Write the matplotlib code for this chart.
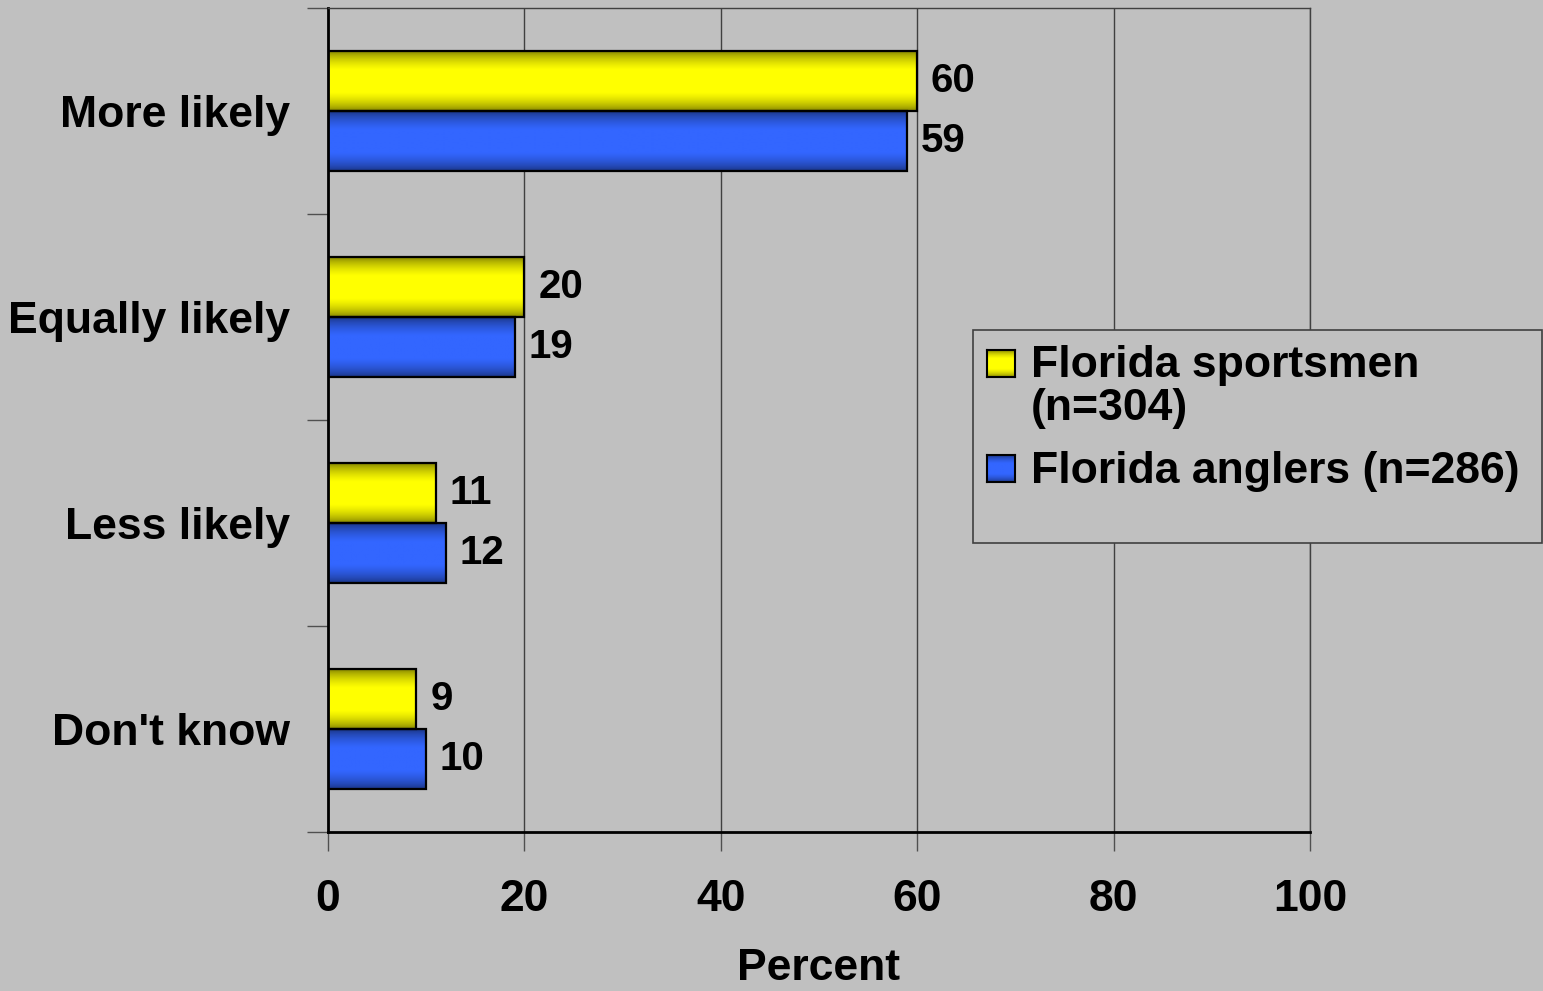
import numpy as np
import matplotlib
matplotlib.use("Agg")
import matplotlib.pyplot as plt
from matplotlib.patches import Rectangle

categories = ["More likely", "Equally likely", "Less likely", "Don't know"]
series_names = ["Florida sportsmen\n(n=304)", "Florida anglers (n=286)"]
sportsmen = [60, 20, 11, 9]
anglers = [59, 19, 12, 10]
xticks = [0, 20, 40, 60, 80, 100]
xlabel = "Percent"

bg = "#C0C0C0"
bright = [np.array([1.0, 1.0, 0.0]), np.array([0.2, 0.4, 1.0])]
dark = [np.array([0.5, 0.5, 0.0]), np.array([0.1, 0.2, 0.5])]

plt.rcParams['font.family'] = ['Liberation Sans', 'DejaVu Sans']
plt.rcParams['font.weight'] = 'bold'

W, H = 1543, 991
fig = plt.figure(figsize=(W / 100, H / 100), dpi=100, facecolor=bg)
ax = fig.add_axes([328 / W, 1 - 832 / H, (1310 - 328) / W, (832 - 8) / H])
ax.set_facecolor(bg)
ax.set_zorder(0)


def grad_img(i, n=64):
    t = np.linspace(0, 1, n)
    f = np.clip(np.sin(np.pi * t) ** 0.7 * 1.15, 0, 1)
    return (dark[i][None, :] + (bright[i] - dark[i])[None, :] * f[:, None])[:, None, :]


bh = 60 / 206
offs = [-bh / 2, bh / 2]
ys = np.arange(len(categories))
for si, vals in enumerate([sportsmen, anglers]):
    img = grad_img(si)
    for y, v in zip(ys, vals):
        yc = y + offs[si]
        y0, y1 = yc - bh / 2, yc + bh / 2
        ax.imshow(img, extent=[0, v, y1, y0], aspect='auto', zorder=2, interpolation='bilinear')
        ax.add_patch(Rectangle((0, y0), v, bh, fill=False, edgecolor='black', lw=1.6, zorder=3))
        ax.text(v + 1.4, yc, str(v), ha='left', va='center', fontsize=29, fontweight='bold', zorder=4)

ax.set_xlim(0, 100)
ax.set_ylim(len(categories) - 0.5, -0.5)
ax.set_xticks(xticks)
ax.set_xticklabels([str(x) for x in xticks], fontsize=32, fontweight='bold')
ax.set_yticks(ys)
ax.set_yticklabels(categories, fontsize=32, fontweight='bold')
ax.set_yticks(np.arange(-0.5, len(categories) + 0.5, 1), minor=True)
ax.tick_params(axis='y', which='major', length=0, pad=27)
ax.tick_params(axis='y', which='minor', length=15, width=1, color='#505050', direction='out')
ax.tick_params(axis='x', which='major', length=14, width=1, color='#505050', direction='out', pad=20)
ax.set_xlabel(xlabel, fontsize=32, fontweight='bold', labelpad=20)
ax.grid(axis='x', color='#404040', lw=1, zorder=1)
ax.set_axisbelow(True)
for s in ['top', 'right']:
    ax.spines[s].set_color('#404040')
    ax.spines[s].set_linewidth(1)
for s in ['left', 'bottom']:
    ax.spines[s].set_color('black')
    ax.spines[s].set_linewidth(2)

# Legend (manual, figure pixel coordinates)
lx0, ly0, lx1, ly1 = 973, 330, 1542, 543
fig.patches.append(Rectangle((lx0 / W, 1 - ly1 / H), (lx1 - lx0) / W, (ly1 - ly0) / H,
                             transform=fig.transFigure, facecolor=bg, edgecolor='#404040', lw=1.2, zorder=1))
sq_tops = [350, 455]
baselines = [377, 483]
line_step = 43
for si in range(len(series_names)):
    sq = 27
    axl = fig.add_axes([987 / W, 1 - (sq_tops[si] + sq) / H, 28 / W, sq / H])
    axl.set_zorder(2)
    axl.imshow(grad_img(si), extent=[0, 1, 0, 1], aspect='auto', interpolation='bilinear')
    axl.set_xticks([]); axl.set_yticks([])
    for s in axl.spines.values():
        s.set_color('black'); s.set_linewidth(1.5)
    for li, line in enumerate(series_names[si].split('\n')):
        fig.text(1031 / W, 1 - (baselines[si] + li * line_step) / H, line, ha='left', va='baseline',
                 fontsize=32, fontweight='bold', zorder=3)

fig.savefig("out.png", dpi=100, facecolor=bg)
